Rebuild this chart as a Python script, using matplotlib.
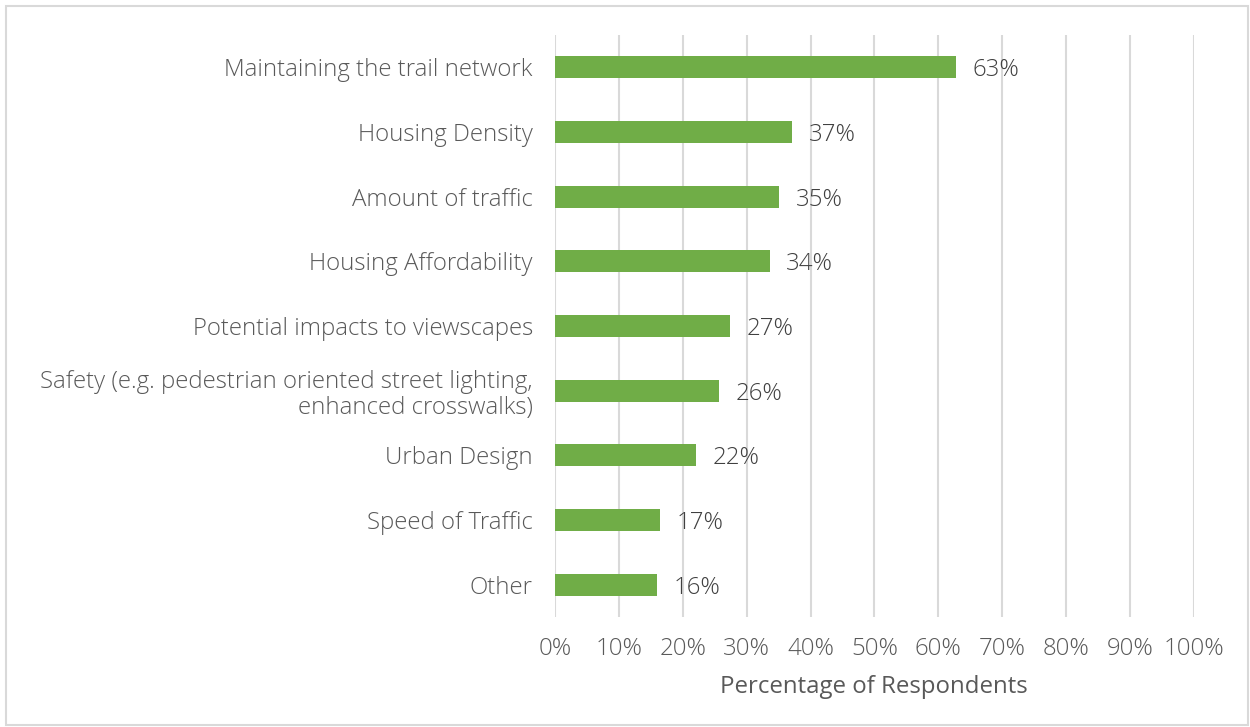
import matplotlib.pyplot as plt
import numpy as np

# survey results, top to bottom as shown
categories = [
    'Maintaining the trail network',
    'Housing Density',
    'Amount of traffic',
    'Housing Affordability',
    'Potential impacts to viewscapes',
    'Safety (e.g. pedestrian oriented street lighting,\nenhanced crosswalks)',
    'Urban Design',
    'Speed of Traffic',
    'Other',
]
values = [62.8, 37.1, 35.1, 33.6, 27.4, 25.7, 22.0, 16.5, 16.0]
labels = ['63%', '37%', '35%', '34%', '27%', '26%', '22%', '17%', '16%']
x_ticks = list(range(0, 101, 10))
x_ticklabels = [f'{t}%' for t in x_ticks]

plt.rcParams['font.family'] = ['Open Sans', 'DejaVu Sans']
plt.rcParams['font.weight'] = 'light'
FS = 17.3

fig = plt.figure(figsize=(12.5, 7.27), dpi=100)
ax = fig.add_axes([0.444, 0.151, 0.511, 0.801])

y = np.arange(len(categories))
ax.barh(y, values, height=0.34, color='#70ad47', zorder=3)

for yi, v, lab in zip(y, values, labels):
    ax.text(v + 2.6, yi, lab, va='center_baseline', ha='left', fontsize=FS, color='#404040')

ax.set_ylim(len(categories) - 0.5, -0.5)
ax.set_xlim(0, 100)
ax.set_yticks(y)
ax.set_yticklabels(categories, fontsize=FS, color='#595959', linespacing=1.1)
ax.set_xticks(x_ticks)
ax.set_xticklabels(x_ticklabels, fontsize=FS, color='#595959')
ax.tick_params(axis='both', length=0)
ax.tick_params(axis='y', pad=16)
ax.tick_params(axis='x', pad=14)
ax.set_xlabel('Percentage of Respondents', fontsize=FS, color='#595959', labelpad=10)

ax.grid(axis='x', color='#d9d9d9', linewidth=1.5, zorder=0)
for s in ax.spines.values():
    s.set_visible(False)

# light frame around the whole chart
fig.patches.append(plt.Rectangle((6 / 1250, 2 / 727), 1 - 8 / 1250, 1 - 8 / 727,
                                 transform=fig.transFigure, fill=False,
                                 edgecolor='#d9d9d9', linewidth=1.5))

fig.savefig('out.png', dpi=100)
